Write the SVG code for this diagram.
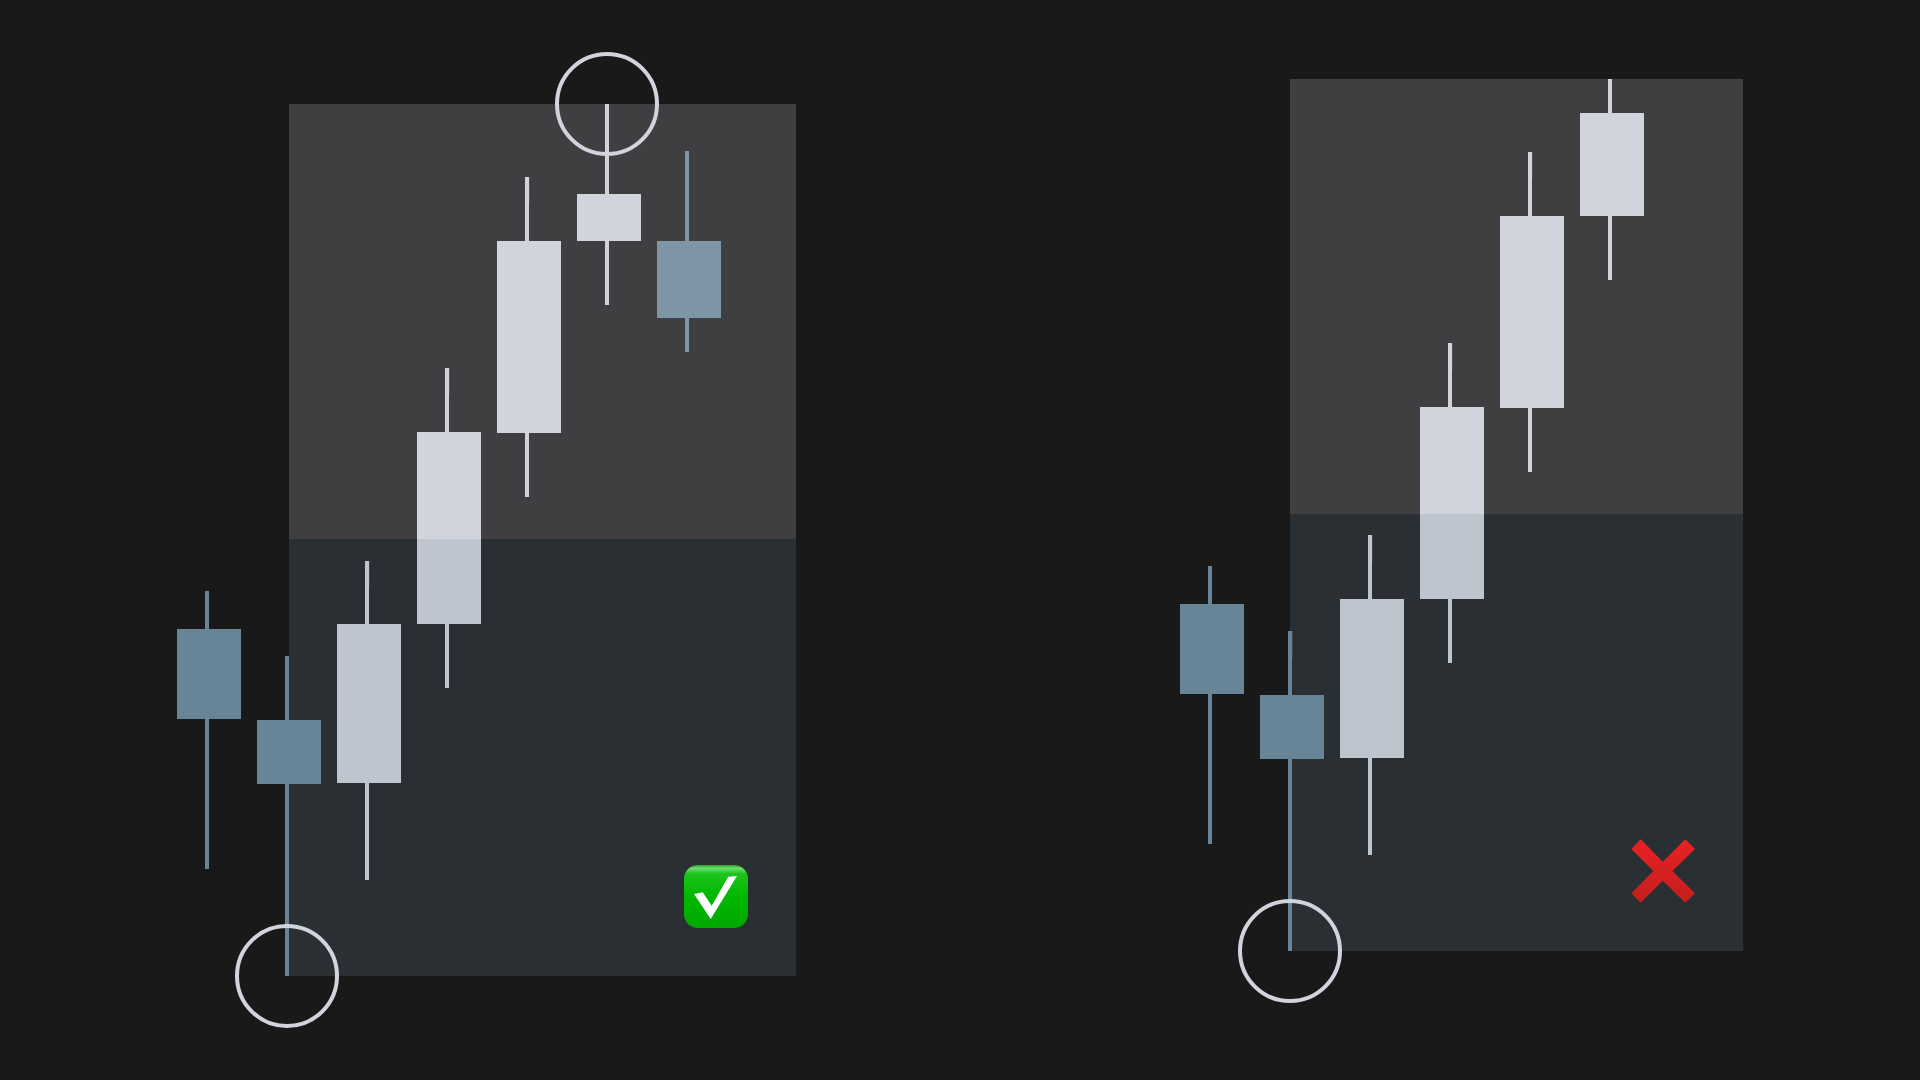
<svg xmlns="http://www.w3.org/2000/svg" width="1920" height="1080" viewBox="0 0 1920 1080">
<style>
.up{fill:#d1d4dc}.lo{fill:#bec5ce}.bup{fill:#7d95a5}.blo{fill:#678597}
.ptop{fill:#3f3f41}.pbot{fill:#2a2f33}
.ring{fill:none;stroke:#d1d4dc;stroke-width:4}
.art{fill:#c4c8cf;opacity:.14}
</style>
<defs>
<linearGradient id="gGreen" x1="0" y1="0" x2="0" y2="1">
<stop offset="0" stop-color="#1f9f1f"/><stop offset=".05" stop-color="#6fdc6f"/><stop offset=".14" stop-color="#1dc41d"/><stop offset=".5" stop-color="#00b800"/><stop offset="1" stop-color="#00a800"/>
</linearGradient>
<linearGradient id="gRed" x1="0" y1="0" x2="0" y2="1">
<stop offset="0" stop-color="#e82222"/><stop offset="1" stop-color="#c41e1e"/>
</linearGradient>
</defs>
<rect width="1920" height="1080" fill="#191919"/>
<g id="left-panel">
<rect class="ptop" x="289" y="104" width="507" height="435"/>
<rect class="pbot" x="289" y="539" width="507" height="437"/>
</g>
<g id="right-panel">
<rect class="ptop" x="1290" y="79" width="453" height="435"/>
<rect class="pbot" x="1290" y="514" width="453" height="437"/>
</g>
<g id="left-candle-1"><rect class="blo" x="205" y="591" width="4" height="278"/><rect class="blo" x="177" y="629" width="64" height="90"/></g>
<g id="left-candle-2"><rect class="blo" x="285" y="656" width="4" height="320"/><rect class="blo" x="257" y="720" width="64" height="64"/></g>
<g id="left-candle-3"><rect class="lo" x="365" y="561" width="4" height="319"/><rect class="art" x="369" y="561" width="1" height="27"/><rect class="lo" x="337" y="624" width="64" height="159"/></g>
<g id="left-candle-4"><rect class="up" x="445" y="368" width="4" height="64"/><rect class="art" x="449" y="368" width="1" height="27"/><rect class="lo" x="445" y="624" width="4" height="64"/><rect class="up" x="417" y="432" width="64" height="107"/><rect class="lo" x="417" y="539" width="64" height="85"/></g>
<g id="left-candle-5"><rect class="up" x="525" y="177" width="4" height="320"/><rect class="art" x="529" y="177" width="1" height="27"/><rect class="up" x="497" y="241" width="64" height="192"/></g>
<g id="left-candle-6"><rect class="up" x="605" y="104" width="4" height="201"/><rect class="up" x="577" y="194" width="64" height="47"/></g>
<g id="left-candle-7"><rect class="bup" x="685" y="151" width="4" height="201"/><rect class="bup" x="657" y="241" width="64" height="77"/></g>
<g id="right-candle-1"><rect class="blo" x="1208" y="566" width="4" height="278"/><rect class="blo" x="1180" y="604" width="64" height="90"/></g>
<g id="right-candle-2"><rect class="blo" x="1288" y="631" width="4" height="320"/><rect class="art" x="1292" y="631" width="1" height="27"/><rect class="blo" x="1260" y="695" width="64" height="64"/></g>
<g id="right-candle-3"><rect class="lo" x="1368" y="535" width="4" height="320"/><rect class="art" x="1372" y="535" width="1" height="27"/><rect class="lo" x="1340" y="599" width="64" height="159"/></g>
<g id="right-candle-4"><rect class="up" x="1448" y="343" width="4" height="64"/><rect class="art" x="1452" y="343" width="1" height="27"/><rect class="lo" x="1448" y="599" width="4" height="64"/><rect class="up" x="1420" y="407" width="64" height="107"/><rect class="lo" x="1420" y="514" width="64" height="85"/></g>
<g id="right-candle-5"><rect class="up" x="1528" y="152" width="4" height="320"/><rect class="art" x="1532" y="152" width="1" height="27"/><rect class="up" x="1500" y="216" width="64" height="192"/></g>
<g id="right-candle-6"><rect class="up" x="1608" y="79" width="4" height="201"/><rect class="up" x="1580" y="113" width="64" height="103"/></g>
<g id="ring-top"><circle class="ring" cx="607" cy="104" r="50"/></g>
<g id="ring-left-bottom"><circle class="ring" cx="287" cy="976" r="50"/></g>
<g id="ring-right-bottom"><circle class="ring" cx="1290" cy="951" r="50"/></g>
<g id="check-icon">
<rect x="684" y="865" width="64" height="63" rx="14" fill="url(#gGreen)"/>
<polygon points="694,894 702.7,892.3 711.7,905.7 728.3,876.7 737,876 710.7,919" fill="#fff"/>
</g>
<g id="cross-icon">
<polygon points="1640.7,839.3 1662.7,861.7 1685.3,839.3 1695,849 1672.3,871 1695,893.3 1685.3,902.7 1662.7,880.7 1640.7,902.7 1631.3,893.3 1653.3,871 1631.3,849" fill="url(#gRed)"/>
</g>
</svg>
